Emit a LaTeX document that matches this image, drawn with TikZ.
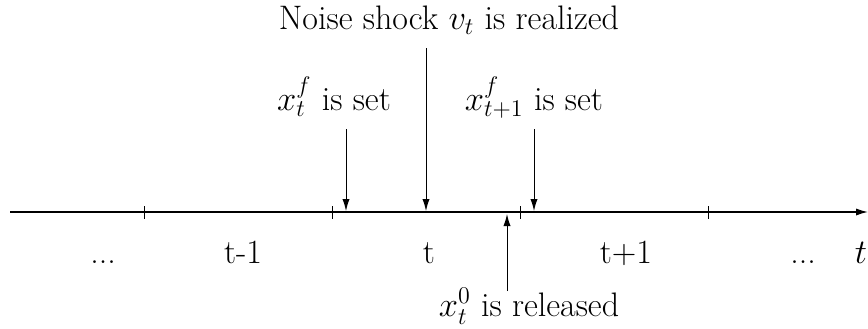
\documentclass[tikz,border=0pt]{standalone}
\usetikzlibrary{arrows.meta}
\begin{document}
\begin{tikzpicture}[x=0.5pt,y=-0.5pt,
  lbl/.style={inner sep=0pt,anchor=base,font=\fontsize{17}{20}\selectfont},
  evarrow/.style={-{Latex[length=6pt,width=3.6pt]},line width=0.5pt},
  axis/.style={-{Latex[length=6pt,width=3.6pt]},line width=0.7pt},
  tick/.style={line width=0.5pt}]
\useasboundingbox (0,0) rectangle (868,328);
% axis
\coordinate (axL) at (10,212);
\coordinate (axR) at (868,212);
\draw[axis] (axL) -- (axR);
% ticks
\foreach \n/\x in {t1/144,t2/332,t3/520,t4/708}{
  \coordinate (\n a) at (\x,206);
  \coordinate (\n b) at (\x,219);
  \draw[tick] (\n a) -- (\n b);
}
% period labels
\node[lbl] (d1) at (103,263) {...};
\node[lbl] (p1) at (243,263) {t-1};
\node[lbl] (p2) at (429,263) {t};
\node[lbl] (p3) at (626,263) {t+1};
\node[lbl] (d2) at (803,263) {...};
\node[lbl] (tt) at (861,263) {$t$};
% event labels
\node[lbl] (noise) at (449,29) {Noise shock $v_t$ is realized};
\node[lbl] (xf) at (334,110) {$x_t^f$ is set};
\node[lbl] (xf1) at (534,110) {$x_{t+1}^f$ is set};
\node[lbl] (x0) at (529,316) {$x_t^0$ is released};
% arrows
\coordinate (nS) at (426,48);  \coordinate (nE) at (426,211);
\coordinate (fS) at (346,129); \coordinate (fE) at (346,211);
\coordinate (gS) at (534,129); \coordinate (gE) at (534,211);
\coordinate (rS) at (507,291); \coordinate (rE) at (507,214);
\draw[evarrow] (nS) -- (nE);
\draw[evarrow] (fS) -- (fE);
\draw[evarrow] (gS) -- (gE);
\draw[evarrow] (rS) -- (rE);
\end{tikzpicture}
\end{document}
